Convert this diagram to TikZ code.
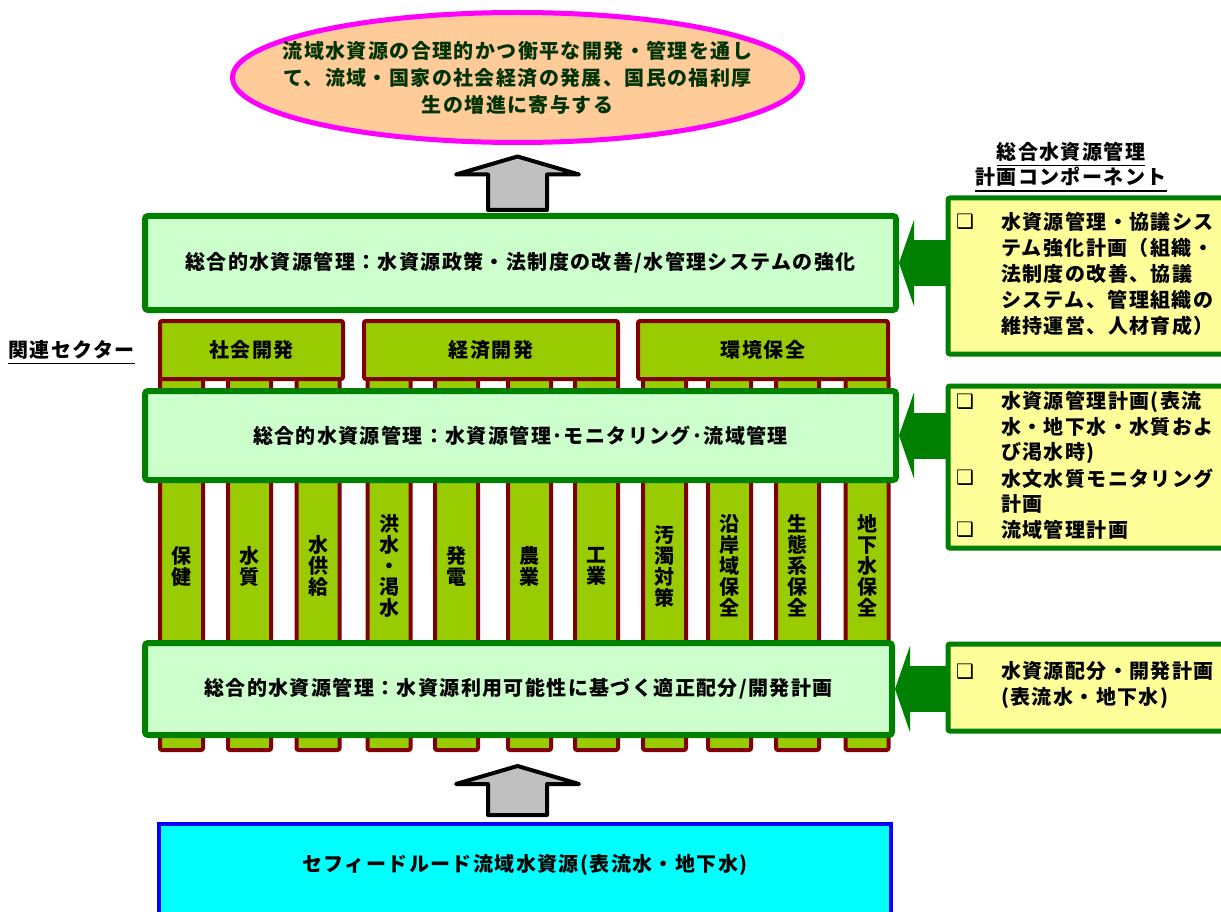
\documentclass[tikz,border=0pt]{standalone}
\usepackage{fontspec}
\setmainfont{Noto Sans CJK JP}[LetterSpace=7]
\newfontfamily\symfont{DejaVu Sans}
\usetikzlibrary{shapes.geometric,arrows.meta,calc}
\definecolor{bgreen}{RGB}{0,128,0}
\definecolor{lgreen}{RGB}{204,255,204}
\definecolor{secgreen}{RGB}{153,204,0}
\definecolor{dred}{RGB}{128,0,0}
\definecolor{lyellow}{RGB}{255,255,153}
\definecolor{peach}{RGB}{255,204,153}
\definecolor{pink}{RGB}{255,0,255}
\definecolor{dkgreen}{RGB}{0,51,0}
\definecolor{cyanbox}{RGB}{0,255,255}
\definecolor{bluebox}{RGB}{0,0,255}
\definecolor{arrowgray}{RGB}{192,192,192}
\newcommand\blockarrowup[2]{%
  \draw[grayarrow] (#1) -- ($(#1)+(61.5,18)$) -- ($(#1)+(29.5,18)$) -- ($(#2)+(29.5,0)$)
    -- ($(#2)+(-29.5,0)$) -- ($(#1)+(-29.5,18)$) -- ($(#1)+(-61.5,18)$) -- cycle;}
\begin{document}
\begin{tikzpicture}[x=1pt,y=-1pt,
  txt/.style={inner sep=0pt, font=\fontsize{20}{26}\selectfont\bfseries},
  goal/.style={ellipse, draw=pink, line width=5pt, fill=peach, minimum width=570, minimum height=130, inner sep=0pt},
  goaltxt/.style={txt, text=dkgreen, align=center, font=\fontsize{20}{27}\selectfont\bfseries},
  gbox/.style={draw=bgreen, line width=6pt, fill=lgreen, rounded corners=3pt, inner sep=0pt, font=\fontsize{20}{26}\selectfont\bfseries},
  sbox/.style={draw=dred, line width=4pt, fill=secgreen, rounded corners=2pt, inner sep=0pt, minimum height=58, font=\fontsize{20}{26}\selectfont\bfseries},
  col/.style={draw=dred, line width=4pt, fill=secgreen, rounded corners=2pt, inner sep=0pt, minimum width=43, minimum height=374},
  coltxt/.style={txt, align=center, font=\fontsize{20}{21}\selectfont\bfseries},
  comp/.style={draw=bgreen, line width=5pt, fill=lyellow, rounded corners=2pt, inner sep=0pt, minimum width=278},
  ctxt/.style={txt, anchor=west, align=left},
  bul/.style={inner sep=0pt, font=\symfont\bfseries\fontsize{20}{20}\selectfont},
  srcbox/.style={draw=bluebox, line width=4pt, fill=cyanbox, inner sep=0pt},
  grayarrow/.style={draw=black, line width=4pt, fill=arrowgray, line join=round},
  garrow/.style={draw=bgreen, line width=46pt, -{Triangle[length=15pt,width=86pt]}},
  uline/.style={line width=1.3pt}]
\useasboundingbox (0,0) rectangle (1221,912);
\clip (0,0) rectangle (1221,912);
\fill[white] (0,0) rectangle (1221,912);

% goal
\node[goal] (goal) at (517.5,77.5) {};
\node[goaltxt] (goalt) at (goal.center) {流域水資源の合理的かつ衡平な開発・管理を通し\\て、流域・国家の社会経済の発展、国民の福利厚\\生の増進に寄与する};

% columns
\foreach \i/\x/\t in {1/181.5/{保\\健},2/249.5/{水\\質},3/318/{水\\供\\給},4/389/{洪\\水\\・\\渇\\水},5/456.5/{発\\電},6/529.5/{農\\業},7/596.5/{工\\業},8/664.5/{汚\\濁\\対\\策},9/729.5/{沿\\岸\\域\\保\\全},10/797.5/{生\\態\\系\\保\\全},11/867/{地\\下\\水\\保\\全}}{
  \node[col] (col\i) at (\x,563) {};
  \node[coltxt] (colt\i) at ($(col\i.center)+(0,3)$) {\t};
}

% sectors
\node[sbox, minimum width=183] (sec1) at (251.5,350) {社会開発};
\node[sbox, minimum width=254] (sec2) at (491,350) {経済開発};
\node[sbox, minimum width=250] (sec3) at (763,350) {環境保全};

% main boxes
\node[gbox, minimum width=751, minimum height=94] (box1) at (520.5,263) {総合的水資源管理：水資源政策・法制度の改善/水管理システムの強化};
\node[gbox, minimum width=751, minimum height=89] (box2) at (520.5,435.5) {総合的水資源管理：水資源管理･モニタリング･流域管理};
\node[gbox, minimum width=747, minimum height=92] (box3) at (518.5,689) {総合的水資源管理：水資源利用可能性に基づく適正配分/開発計画};

% source
\node[srcbox, minimum width=732, minimum height=100] (src) at (525,874) {};
\node[txt] (srct) at ($(src.north)+(0,43)$) {セフィードルード流域水資源(表流水・地下水)};

% gray arrows
\coordinate (t1) at ($(goal.south)+(0,11.5)$);
\coordinate (b1) at ($(t1 |- box1.north)+(0,-3)$);
\blockarrowup{t1}{b1}
\coordinate (b2) at ($(src.north -| t1)+(0,-7)$);
\coordinate (t2) at ($(b2)+(0,-49)$);
\blockarrowup{t2}{b2}

% labels
\node[txt] (rel) at (71.5,350) {関連セクター};
\draw[uline] ($(rel.south west)+(0,4)$) -- ($(rel.south east)+(0,4)$);
\node[txt] (hd1) at (1071,152) {総合水資源管理};
\draw[uline] ($(hd1.south west)+(0,4)$) -- ($(hd1.south east)+(0,4)$);
\node[txt] (hd2) at (1071,177) {計画コンポーネント};
\draw[uline] ($(hd2.south west)+(0,4)$) -- ($(hd2.south east)+(0,4)$);

% component boxes
\node[comp, minimum height=156] (comp1) at (1087,276) {};
\node[comp, minimum height=162] (comp2) at (1087,467) {};
\node[comp, minimum height=87] (comp3) at (1087,687.5) {};

\node[bul] (b1a) at (965,222) {❑};
\node[ctxt] (c1a) at (1001,274) {水資源管理・協議シス\\テム強化計画（組織・\\法制度の改善、協議\\システム、管理組織の\\維持運営、人材育成）};
\node[bul] (b2a) at (965,402) {❑};
\node[ctxt, font=\fontsize{20}{25.6}\selectfont\bfseries] (c2a) at (1001,427.5) {水資源管理計画(表流\\水・地下水・水質およ\\び渇水時)};
\node[bul] (b2b) at (965,478) {❑};
\node[ctxt, font=\fontsize{20}{25.6}\selectfont\bfseries] (c2b) at (1001,491) {水文水質モニタリング\\計画};
\node[bul] (b2c) at (965,530) {❑};
\node[ctxt] (c2c) at (1001,530) {流域管理計画};
\node[bul] (b3a) at (965,672) {❑};
\node[ctxt] (c3a) at (1001,685) {水資源配分・開発計画\\(表流水・地下水)};

% green arrows
\draw[garrow] (box1.east -| comp1.west) -- (box1.east);
\draw[garrow] (box2.east -| comp2.west) -- (box2.east);
\draw[garrow] (box3.east -| comp3.west) -- (box3.east);
\end{tikzpicture}
\end{document}
